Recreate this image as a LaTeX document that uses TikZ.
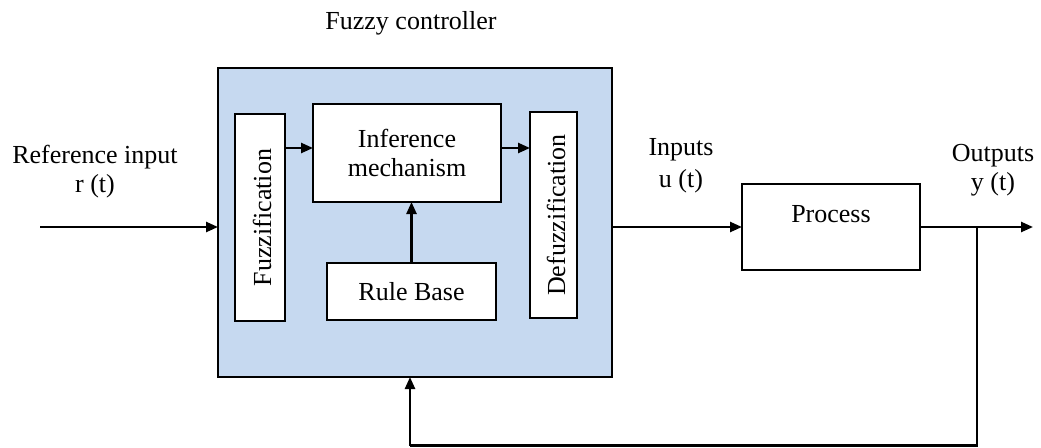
\documentclass[tikz,border=0pt]{standalone}
\usepackage{fontspec}
\setmainfont{Liberation Serif}
\usetikzlibrary{arrows.meta,calc}
\definecolor{ctrlblue}{RGB}{198,217,240}
\begin{document}
\begin{tikzpicture}[x=1pt,y=-1pt,
  every node/.style={font=\fontsize{26}{29}\selectfont, inner sep=0pt, outer sep=0pt},
  blk/.style={draw=black, line width=2.2pt, fill=white, rectangle},
  lbl/.style={anchor=base},
  arr/.style={line width=2.4pt, -{Triangle[length=12pt,width=10pt]}},
  ln/.style={line width=2.4pt}]
\useasboundingbox (0,0) rectangle (1041,447);
% controller
\node[blk, fill=ctrlblue, minimum width=394pt, minimum height=309pt] (ctrl) at (415,222.5) {};
\node[blk, minimum width=50pt, minimum height=207pt] (fuzz) at (260,217.5) {};
\node[rotate=90] (fuzzt) at (262,217.5) {Fuzzification};
\node[blk, minimum width=188pt, minimum height=98pt, align=center] (inf) at (407,153) {Inference\\mechanism};
\node[blk, minimum width=169pt, minimum height=57pt] (rule) at (411.5,291.5) {Rule Base};
\node[blk, minimum width=47pt, minimum height=206pt] (defuzz) at (553.5,215) {};
\node[rotate=90] (defuzzt) at (556,215) {Defuzzification};
\node[blk, minimum width=178pt, minimum height=86pt] (proc) at (831,227) {};
\node[lbl] (proct) at (831,222) {Process};
% labels
\node[lbl] (title) at (411,29) {Fuzzy controller};
\node[lbl] (ref1) at (95,163) {Reference input};
\node[lbl] (ref2) at (95,192) {r (t)};
\node[lbl] (inp1) at (681,155) {Inputs};
\node[lbl] (inp2) at (681,187) {u (t)};
\node[lbl] (out1) at (993,161) {Outputs};
\node[lbl] (out2) at (993,190) {y (t)};
% coordinates
\coordinate (rin) at (40,227);
\coordinate (yout) at (1033,227);
\coordinate (br) at (977,227);
\coordinate (fb) at (410,445.5);
% connectors
\draw[arr] (rin) -- (rin -| ctrl.west);
\draw[arr] (proc.west -| ctrl.east) -- (proc.west);
\draw[arr] (proc.east) -- (yout);
\draw[ln] (br) -- (br |- fb) -- (fb);
\draw[arr] (fb) -- (fb |- ctrl.south);
\draw[arr] ([yshift=5pt]fuzz.east |- inf.west) -- ([yshift=5pt]inf.west);
\draw[arr] ([yshift=5pt]inf.east) -- ([yshift=5pt]defuzz.west |- inf.east);
\draw[arr] (rule.north) -- (rule.north |- inf.south);
\end{tikzpicture}
\end{document}
